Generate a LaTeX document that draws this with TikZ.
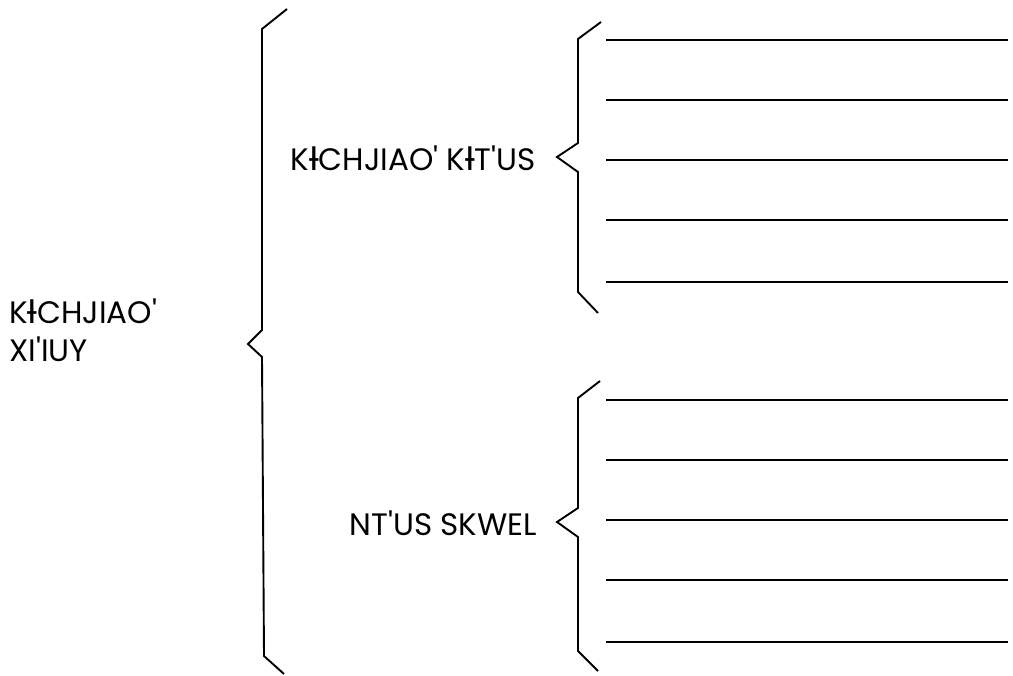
\documentclass[tikz,border=0pt]{standalone}
\usepackage{fontspec}
\setmainfont{Poppins}[Ligatures=TeXOff]
\newfontfamily\djv{DejaVu Sans}[Ligatures=TeXOff,Scale=1.05]
\newcommand{\bI}{{\djv Ɨ}}
\begin{document}
\begin{tikzpicture}[x=1pt,y=-1pt,
  brace/.style={line width=1.9pt,line join=miter},
  rule/.style={line width=1.9pt},
  lbl/.style={font=\fontsize{31}{38}\selectfont,inner sep=0pt}]
\useasboundingbox (0,0) rectangle (1013,676);
% big brace
\draw[brace] (287,9) -- (262,29) -- (262,330) -- (248,344) -- (262,357) -- (264,656) -- (284,674);
% upper small brace
\draw[brace] (601,22) -- (578,39) -- (578,143) -- (557,157) -- (578,172) -- (578,292) -- (598,313);
% lower small brace
\draw[brace] (600,381) -- (578,398) -- (578,508) -- (557,522) -- (578,537) -- (578,651) -- (598,671);
% lines
\foreach \y in {40,100,160,220,282,400,460,520,580,642}
  \draw[rule] (606,\y) -- (1008,\y);
\node[lbl,anchor=north west,align=left] (root) at (9,299) {K\bI CHJIAO'\\XI'IUY};
\node[lbl,anchor=east] (a) at (536,158) {K\bI CHJIAO' K\bI T'US};
\node[lbl,anchor=east] (b) at (537,523) {NT'US SKWEL};
\end{tikzpicture}
\end{document}
